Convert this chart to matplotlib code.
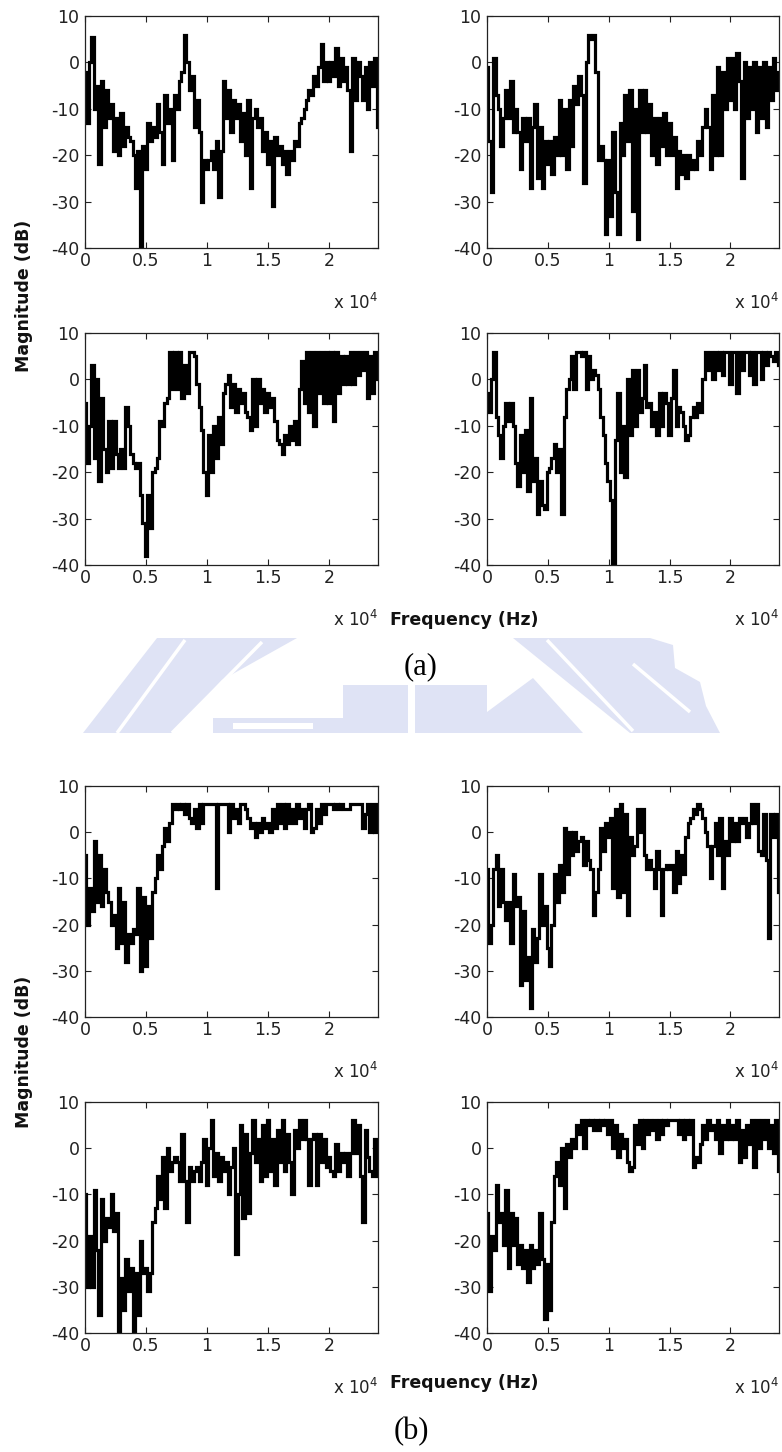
import matplotlib
matplotlib.use('Agg')
import matplotlib.pyplot as plt
import numpy as np
from matplotlib.patches import Polygon, Rectangle

# ---------------- data (dB, sampled every 200 Hz from 0 to 24 kHz) ----------------
freq_hz = np.arange(121) * 200

a_top_left = [
    -2, -13, 0, 5.5, -10, -5, -22, -4, -14, -6,
    -12, -9, -19, -12, -20, -11, -18, -14, -16, -17,
    -20, -27, -19, -40, -18, -23, -13, -17, -14, -16,
    -9, -15, -22, -7, -13, -10, -21, -7, -10, -4,
    -2, 6, 0, -6, -3, -14, -8, -15, -30, -21,
    -23, -21, -19, -23, -17, -29, -19, -4, -12, -6,
    -15, -8, -12, -9, -17, -11, -20, -8, -27, -12,
    -10, -14, -12, -19, -15, -22, -17, -31, -16, -20,
    -18, -22, -19, -24, -19, -21, -17, -18, -13, -12,
    -10, -8, -6, -7, -3, -5, -1, 4, -4, 0,
    -4, 0, -3, 3, -5, 1, -4, -1, -6, -19,
    1, -8, 0, -3, -8, -1, -10, 0, -5, 1, -14]

a_top_right = [
    -1, -17, -28, 1, -7, -10, -18, -12, -6, -12,
    -4, -15, -10, -15, -23, -12, -17, -12, -27, -14,
    -9, -25, -14, -27, -17, -22, -17, -24, -16, -20,
    -8, -20, -10, -23, -8, -18, -5, -9, -3, -7,
    -26, 0, 6, 5, 6, -2, -21, -18, -21, -37,
    -21, -33, -15, -28, -37, -13, -20, -7, -17, -6,
    -32, -10, -38, -6, -15, -6, -15, -9, -20, -12,
    -22, -12, -18, -11, -20, -13, -20, -16, -27, -19,
    -24, -20, -25, -20, -23, -21, -23, -17, -20, -14,
    -10, -14, -23, -7, -20, -1, -20, -2, -10, 1,
    -8, 1, -10, 2, -4, -25, 0, -12, -1, -10,
    0, -15, -1, -12, 0, -14, -1, -8, 1, -6, -2]

a_bottom_left = [
    -5, -18, -10, 3, -17, 0, -22, -4, -15, -20,
    -9, -19, -9, -16, -19, -15, -19, -6, -10, -16,
    -18, -19, -18, -25, -31, -38, -25, -32, -20, -19,
    -17, -9, -10, -5, -4, 6, -2, 6, -2, 6,
    -4, 3, -3, 6, 6, 5, -1, -6, -11, -20,
    -25, -12, -20, -10, -17, -8, -14, -3, -1, 1,
    -6, -1, -7, -2, -5, -3, -7, -8, -11, 0,
    -10, 0, -5, -2, -7, -3, -6, -4, -9, -13,
    -14, -16, -12, -14, -10, -13, -9, -14, -2, 4,
    -5, 6, -7, 6, -10, 6, -3, 6, -5, 6,
    -5, 6, -9, 6, -3, 5, -1, 5, -1, 6,
    -1, 6, 1, 6, 2, 6, -4, 5, -3, 6, 0]

a_bottom_right = [
    -3, -7, 0, 6, -8, -12, -17, -10, -5, -9,
    -5, -10, -18, -23, -12, -20, -11, -24, -4, -22,
    -17, -29, -22, -27, -28, -20, -19, -17, -14, -20,
    -15, -29, -8, -2, 0, 5, -2, 6, 6, 5,
    6, -2, 5, 0, 2, 1, -2, -8, -12, -18,
    -22, -26, -40, -13, -3, -20, -10, -21, 0, -12,
    2, -10, 2, -7, -4, 3, -6, -5, -10, -7,
    -12, -3, -10, -3, -5, -12, -4, 2, -10, -6,
    -7, -10, -13, -12, -8, -6, -8, -5, -7, 0,
    6, 2, 6, 0, 6, 2, 6, 1, 6, 6,
    -1, 6, 6, -3, 6, 2, 6, 6, 1, 6,
    -1, 6, 6, 0, 6, 3, 6, 5, 4, 6, 3]

b_top_left = [
    -5, -20, -12, -17, -2, -15, -5, -16, -8, -13,
    -15, -20, -18, -25, -12, -24, -15, -28, -22, -24,
    -21, -22, -12, -30, -14, -29, -16, -23, -13, -10,
    -5, -8, -3, 1, -2, 2, 6, 5, 6, 5,
    6, 4, 6, 3, 2, 5, 1, 6, 2, 6,
    6, 6, 6, 6, -12, 6, 6, 6, 6, 0,
    6, 3, 5, 2, 6, 6, 5, 3, 1, 2,
    -1, 2, 0, 3, 1, 2, 0, 5, 1, 6,
    2, 6, 1, 6, 2, 5, 2, 6, 3, 5,
    1, 5, 6, 0, 1, 5, 2, 6, 4, 6,
    6, 6, 5, 6, 5, 6, 5, 5, 5, 6,
    6, 6, 6, 6, 1, 4, 6, 0, 6, 0, 6]

b_top_right = [
    -8, -24, -20, -8, -5, -16, -8, -15, -19, -15,
    -24, -9, -16, -14, -33, -17, -32, -27, -38, -21,
    -28, -23, -9, -20, -16, -25, -29, -20, -9, -15,
    -7, -13, 1, -9, 0, -5, 0, -4, -2, -1,
    -7, -2, -6, -8, -18, -13, -8, 1, -4, 2,
    -1, 3, -12, 5, -14, 6, -13, 4, -18, -1,
    -5, -3, 5, 0, 5, -5, -8, -6, -8, -12,
    -4, -8, -18, -8, -7, -8, -7, -13, -4, -11,
    -5, -9, -1, 2, 3, 5, 4, 6, 5, 3,
    0, -3, -10, -3, 2, -5, 3, -12, -2, -5,
    3, -2, 2, -2, 3, 2, 3, -1, 2, 6,
    2, 6, -4, -5, 4, -6, -23, 4, -1, 4, -13]

b_bottom_left = [
    -10, -30, -19, -30, -9, -22, -36, -11, -20, -15,
    -17, -10, -18, -14, -40, -28, -35, -24, -31, -26,
    -40, -27, -36, -20, -27, -26, -31, -27, -16, -13,
    -6, -11, -2, -13, 0, -5, -3, -2, -3, -7,
    3, -7, -16, -4, -7, -5, -4, -7, -3, 2,
    -8, 0, 6, -6, -1, -7, -2, -5, -3, -10,
    -4, 0, -23, -10, 5, -15, 3, -14, -1, 6,
    -3, 2, -7, 5, -6, 6, -5, 2, -8, 4,
    -3, 6, -5, 3, -3, -10, 4, 0, 6, 2,
    6, 2, -8, 2, 3, -8, 3, -3, 2, -4,
    -2, -5, -6, 1, -5, -1, -3, -1, -6, -1,
    6, -1, 5, -6, -16, 4, -2, -5, -6, 2, -6]

b_bottom_right = [
    -14, -31, -19, -22, -8, -16, -14, -21, -9, -26,
    -14, -21, -15, -25, -21, -26, -22, -29, -21, -26,
    -22, -25, -14, -24, -37, -25, -35, -16, -6, -3,
    -8, 0, -13, 1, -2, 2, 0, 5, 3, 6,
    0, 6, 5, 6, 4, 6, 4, 6, 5, 6,
    3, 6, 0, 5, -2, 3, 0, 2, -3, -5,
    -4, 5, 1, 6, 0, 6, 3, 6, 4, 6,
    2, 6, 3, 6, 5, 6, 6, 6, 6, 3,
    6, 2, 6, 3, 6, -4, -2, -3, 1, 5,
    2, 6, 4, 5, 2, 6, -1, 5, 2, 6,
    2, 5, 2, 6, -3, 4, -2, 5, 1, 6,
    -4, 6, 0, 6, 2, 6, 0, 5, -1, 6, -5]

x_ticks = [0, 5000, 10000, 15000, 20000]
x_tick_labels = ['0', '0.5', '1', '1.5', '2']
y_ticks = [-40, -30, -20, -10, 0, 10]
y_tick_labels = ['-40', '-30', '-20', '-10', '0', '10']

# ---------------- layout ----------------
W, H = 782, 1452
fig = plt.figure(figsize=(W / 100, H / 100), dpi=100)
fig.patch.set_facecolor('white')


def rect(l, t, r, b):
    return [l / W, 1 - b / H, (r - l) / W, (b - t) / H]


# faint watermark overlay (pixel coordinates)
wm = fig.add_axes([0, 0, 1, 1], zorder=-5)
wm.set_xlim(0, W)
wm.set_ylim(H, 0)
wm.axis('off')
wcol = '#dfe3f5'
shapes = [
    [(157, 638), (297, 638), (222, 680), (173, 733), (83, 733)],
    [(513, 638), (650, 638), (673, 645), (675, 668), (700, 682), (706, 706), (720, 733), (630, 733)],
    [(487, 733), (487, 712), (533, 678), (583, 733)],
]
for pts in shapes:
    wm.add_patch(Polygon(pts, closed=True, facecolor=wcol, edgecolor='none'))
wm.add_patch(Rectangle((343, 685), 65, 48, facecolor=wcol, edgecolor='none'))
wm.add_patch(Rectangle((415, 685), 72, 48, facecolor=wcol, edgecolor='none'))
wm.add_patch(Rectangle((213, 718), 130, 15, facecolor=wcol, edgecolor='none'))
wm.add_patch(Rectangle((233, 723), 80, 6, facecolor='white', edgecolor='none'))
for (x0, y0, x1, y1) in [(185, 640, 117, 733), (262, 642, 172, 733),
                         (547, 640, 633, 731), (633, 664, 690, 712)]:
    wm.plot([x0, x1], [y0, y1], color='white', lw=2.5, solid_capstyle='butt')

lefts = (85, 378)
rights = (487, 779)
rows = [(16, 248), (333, 565), (786, 1017), (1102, 1333)]

panels = [
    (a_top_left, lefts, rows[0]), (a_top_right, rights, rows[0]),
    (a_bottom_left, lefts, rows[1]), (a_bottom_right, rights, rows[1]),
    (b_top_left, lefts, rows[2]), (b_top_right, rights, rows[2]),
    (b_bottom_left, lefts, rows[3]), (b_bottom_right, rights, rows[3]),
]

for vals, (l, r), (t, b) in panels:
    ax = fig.add_axes(rect(l, t, r, b))
    ax.plot(freq_hz, vals, color='black', lw=2.3, drawstyle='steps-mid',
            solid_joinstyle='miter')
    ax.set_xlim(0, 24000)
    ax.set_ylim(-40, 10)
    ax.set_xticks(x_ticks)
    ax.set_xticklabels(x_tick_labels)
    ax.set_yticks(y_ticks)
    ax.set_yticklabels(y_tick_labels)
    ax.tick_params(direction='in', top=True, right=True, length=4, width=0.8,
                   labelsize=12.5, colors='#222222', labelcolor='#222222')
    ax.tick_params(axis='x', pad=3)
    ax.tick_params(axis='y', pad=4)
    for s in ax.spines.values():
        s.set_linewidth(0.9)
        s.set_color('#222222')
    fig.text(r / W, 1 - (b + 55) / H, r'x 10$^{4}$', ha='right', va='center',
             fontsize=12, color='#222222')

# axis labels
for yc in (296, 1052):
    fig.text(24 / W, 1 - yc / H, 'Magnitude (dB)', rotation=90, ha='center',
             va='center', fontsize=12.5, fontweight='bold', color='#111111')
for yc in (620, 1383):
    fig.text(390 / W, 1 - yc / H, 'Frequency (Hz)', ha='left', va='center',
             fontsize=12.5, fontweight='bold', color='#111111')

fig.text(421 / W, 1 - 667 / H, '(a)', ha='center', va='center',
         fontsize=22, family='Liberation Serif', color='black')
fig.text(411 / W, 1 - 1432 / H, '(b)', ha='center', va='center',
         fontsize=22, family='Liberation Serif', color='black')

fig.savefig('out.png', dpi=100, facecolor='white')
